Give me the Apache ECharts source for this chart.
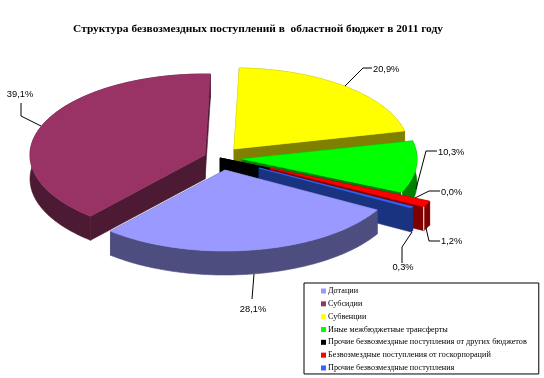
<!DOCTYPE html>
<html>
<head>
<meta charset="utf-8">
<style>html,body{margin:0;padding:0;background:#fff}#chart{width:544px;height:378px}</style>
<script src="https://cdn.jsdelivr.net/npm/echarts@6/dist/echarts.min.js"></script>
</head>
<body>
<div id="chart"></div>
<script>
const titleText = "Структура безвозмездных поступлений в  областной бюджет в 2011 году";
const categories = [
	"Дотации",
	"Субсидии",
	"Субвенции",
	"Иные межбюджетные трансферты",
	"Прочие безвозмездные поступления от других бюджетов",
	"Безвозмездные поступления от госкорпораций",
	"Прочие безвозмездные поступления",
];
const values = [28.1, 39.1, 20.9, 10.3, 0.0, 1.2, 0.3];
const topColors = ["#9999FF", "#993366", "#FFFF00", "#00FF00", "#000000", "#FF0000", "#3366FF"];
const wallColors = ["#4D4D80", "#4D1A33", "#808000", "#008000", "#000000", "#800000", "#1A3380"];

// pie projection: an ellipse with a wall below it
const CX = 222, CY = 160, RX = 175, RY = 81, DEPTH = 24, START_ANGLE = 29.6;
// how far each slice is pulled out of the pie
const explode = [[3, 10], [-17, -5], [12, -11], [20, -1], [-2, -2], [48, 8], [37, 8]];
// back to front
const drawOrder = [1, 2, 3, 4, 5, 6, 0];
// slices with a white seam where the rim wall meets the end face
const seamed = [3, 5];
// leader lines: elbows from the label towards the rim, last point is on the slice
const leaders = [
	[[252, 299], [254, 274]],
	[[21, 103], [21, 116], [41, 126]],
	[[372, 68], [363, 68], [345, 86]],
	[[437, 151], [426, 151], [416, 189]],
	[[440, 191], [429, 191], [415, 198]],
	[[440, 241], [429, 241], [426, 228]],
	[[402, 263], [402, 247], [412, 232]],
];
const labelSpots = [
	[253, 309, "center"], [20, 94, "center"], [373, 69, "left"], [438, 152, "left"],
	[441, 192, "left"], [441, 241, "left"], [403, 267, "center"],
];

const total = values.reduce((a, b) => a + b, 0);
const spans = [];
let running = START_ANGLE;
values.forEach((v) => {
	const sweep = (v / total) * 360;
	spans.push([running, running + sweep]);
	running += sweep;
});

function rimPoint(i, deg, drop) {
	const t = (deg * Math.PI) / 180;
	return [
		CX + explode[i][0] + RX * Math.cos(t),
		CY + explode[i][1] + RY * Math.sin(t) + drop,
	];
}

function arc(i, drop) {
	const [a, b] = spans[i];
	const pts = [];
	const steps = Math.max(1, Math.ceil(b - a));
	for (let k = 0; k <= steps; k++) pts.push(rimPoint(i, a + ((b - a) * k) / steps, drop));
	return pts;
}

function face(points, color) {
	return {
		type: "polygon",
		shape: { points },
		style: { fill: color, stroke: color, lineWidth: 0.6 },
	};
}

function renderSlice(i) {
	const apex = [CX + explode[i][0], CY + explode[i][1]];
	const apexLow = [apex[0], apex[1] + DEPTH];
	const top = arc(i, 0);
	const low = arc(i, DEPTH);
	const wall = wallColors[i];
	const end = top[top.length - 1];
	const endLow = low[low.length - 1];
	const children = [
		face([apex, top[0], low[0], apexLow], wall),
		face(top.concat(low.slice().reverse()), wall),
		face([apex, end, endLow, apexLow], wall),
		face([apex].concat(top), topColors[i]),
	];
	if (seamed.includes(i)) {
		children.push({
			type: "polyline",
			shape: { points: [end, endLow] },
			style: { stroke: "#fff", lineWidth: 1, fill: null },
		});
	}
	return { type: "group", children };
}

function renderLabel(params) {
	const i = params.dataIndex;
	const [x, y, align] = labelSpots[i];
	return {
		type: "group",
		children: [
			{
				type: "polyline",
				shape: { points: leaders[i] },
				style: { stroke: "#000", lineWidth: 1, fill: null },
			},
			{
				type: "text",
				style: {
					x,
					y,
					text: values[i].toFixed(1).replace(".", ",") + "%",
					align,
					verticalAlign: "middle",
					fill: "#000",
					font: "9.3px 'Liberation Sans'",
				},
			},
		],
	};
}

const sliceSeries = drawOrder.map((i) => ({
	type: "custom",
	name: categories[i],
	coordinateSystem: "none",
	silent: true,
	animation: false,
	itemStyle: { color: topColors[i] },
	data: [values[i]],
	renderItem: () => renderSlice(i),
}));

const chart = echarts.init(document.getElementById("chart"), null, { renderer: "canvas" });
chart.setOption({
	backgroundColor: "#fff",
	animation: false,
	tooltip: { show: false },
	title: {
		text: titleText,
		left: 253,
		top: 19,
		textAlign: "center",
		textStyle: { fontFamily: "Liberation Serif", fontSize: 11.4, fontWeight: "bold", color: "#000" },
	},
	legend: {
		data: categories,
		orient: "vertical",
		left: 304,
		top: 283,
		padding: [2, 12, 0, 17],
		itemWidth: 5,
		itemHeight: 5,
		itemGap: 0.83,
		icon: "rect",
		selectedMode: false,
		borderColor: "#000",
		borderWidth: 1,
		backgroundColor: "#fff",
		textStyle: { fontFamily: "Liberation Serif", fontSize: 8.2, color: "#000", padding: [0, 0, 0, -3], lineHeight: 12 },
	},
	series: sliceSeries.concat([
		{
			type: "custom",
			name: "labels",
			coordinateSystem: "none",
			silent: true,
			animation: false,
			data: values,
			renderItem: renderLabel,
		},
	]),
});
</script>
</body>
</html>
